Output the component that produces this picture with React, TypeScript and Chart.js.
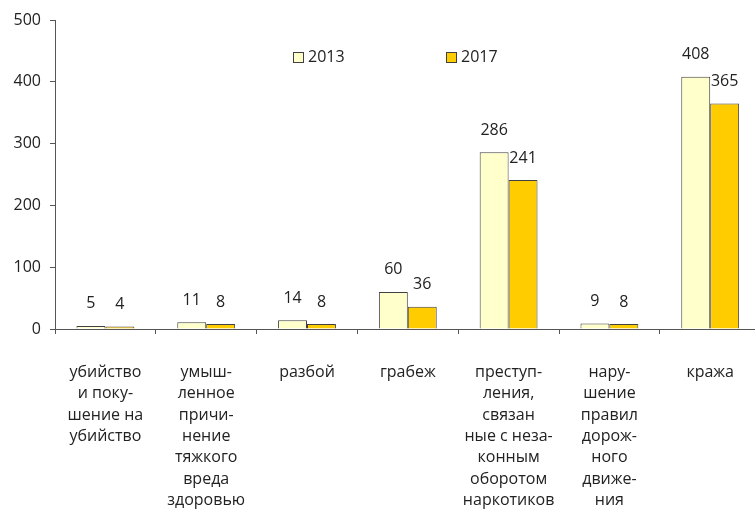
import React, { useEffect, useRef } from "react";
import { Chart, registerables } from "chart.js";

Chart.register(...registerables);

const categories: string[][] = [
  ["убийство", "и поку-", "шение на", "убийство"],
  ["умыш-", "ленное", "причи-", "нение", "тяжкого", "вреда", "здоровью"],
  ["разбой"],
  ["грабеж"],
  ["преступ-", "ления,", "связан", "ные с неза-", "конным", "оборотом", "наркотиков"],
  ["нару-", "шение", "правил", "дорож-", "ного", "движе-", "ния"],
  ["кража"],
];
const seriesNames = ["2013", "2017"];
const values2013 = [5, 11, 14, 60, 286, 9, 408];
const values2017 = [4, 8, 8, 36, 241, 8, 365];
const yTicks = [0, 100, 200, 300, 400, 500];

const FONT = "'Open Sans', 'DejaVu Sans', sans-serif";
const TEXT = "#222222";
const AXIS = "#555555";
const BORDER = "#404040";
const COLORS = ["#FFFFCC", "#FFCC00"];

const valueLabels = {
  id: "valueLabels",
  afterDatasetsDraw(chart: any) {
    const ctx = chart.ctx;
    ctx.save();
    ctx.font = `16px ${FONT}`;
    ctx.fillStyle = TEXT;
    ctx.textAlign = "center";
    ctx.textBaseline = "middle";
    chart.data.datasets.forEach((ds: any, i: number) => {
      const meta = chart.getDatasetMeta(i);
      meta.data.forEach((bar: any, j: number) => {
        ctx.fillText(String(ds.data[j]), bar.x, bar.y - 22);
      });
    });
    ctx.restore();
  },
};

const legendInside = {
  id: "legendInside",
  afterDraw(chart: any) {
    const ctx = chart.ctx;
    const xs = [293, 446];
    const y = 52;
    ctx.save();
    ctx.font = `16px ${FONT}`;
    ctx.textBaseline = "middle";
    ctx.textAlign = "left";
    chart.data.datasets.forEach((ds: any, i: number) => {
      ctx.fillStyle = ds.backgroundColor;
      ctx.strokeStyle = BORDER;
      ctx.lineWidth = 1;
      ctx.fillRect(xs[i] + 0.5, y + 0.5, 10, 10);
      ctx.strokeRect(xs[i] + 0.5, y + 0.5, 10, 10);
      ctx.fillStyle = TEXT;
      ctx.fillText(ds.label, xs[i] + 15, y + 5);
    });
    ctx.restore();
  },
};

export default function App() {
  const ref = useRef<HTMLCanvasElement | null>(null);

  useEffect(() => {
    if (!ref.current) return;
    const chart = new Chart(ref.current, {
      type: "bar",
      data: {
        labels: categories,
        datasets: [
          {
            label: seriesNames[0],
            data: values2013,
            backgroundColor: COLORS[0],
            borderColor: BORDER,
            borderWidth: 1,
            categoryPercentage: 0.574,
            barPercentage: 1,
          },
          {
            label: seriesNames[1],
            data: values2017,
            backgroundColor: COLORS[1],
            borderColor: BORDER,
            borderWidth: 1,
            categoryPercentage: 0.574,
            barPercentage: 1,
          },
        ],
      },
      options: {
        responsive: false,
        maintainAspectRatio: false,
        animation: false,
        layout: { padding: { top: 20, right: 0, bottom: 0, left: 0 } },
        plugins: {
          legend: { display: false },
          tooltip: { enabled: false },
        },
        scales: {
          x: {
            grid: {
              offset: true,
              drawOnChartArea: false,
              tickLength: 5,
              color: AXIS,
            },
            border: { color: AXIS, width: 1 },
            ticks: {
              color: TEXT,
              font: { family: FONT, size: 16, lineHeight: 1.33 },
              padding: 28,
              maxRotation: 0,
              minRotation: 0,
              autoSkip: false,
            },
            afterFit(scale: any) {
              scale.height = 182;
            },
          },
          y: {
            min: 0,
            max: 500,
            grid: {
              drawOnChartArea: false,
              tickLength: 5,
              color: AXIS,
            },
            border: { color: AXIS, width: 1 },
            ticks: {
              color: TEXT,
              font: { family: FONT, size: 16 },
              padding: 9,
              stepSize: 100,
            },
            afterBuildTicks(scale: any) {
              scale.ticks = yTicks.map((v) => ({ value: v }));
            },
            afterFit(scale: any) {
              scale.width = 55;
            },
          },
        },
      },
      plugins: [valueLabels, legendInside],
    });
    return () => chart.destroy();
  }, []);

  return (
    <div
      style={{
        position: "fixed",
        left: 0,
        top: 0,
        width: 755,
        height: 511,
        overflow: "hidden",
        background: "#ffffff",
      }}
    >
      <canvas ref={ref} width={762} height={511} style={{ display: "block" }} />
    </div>
  );
}
